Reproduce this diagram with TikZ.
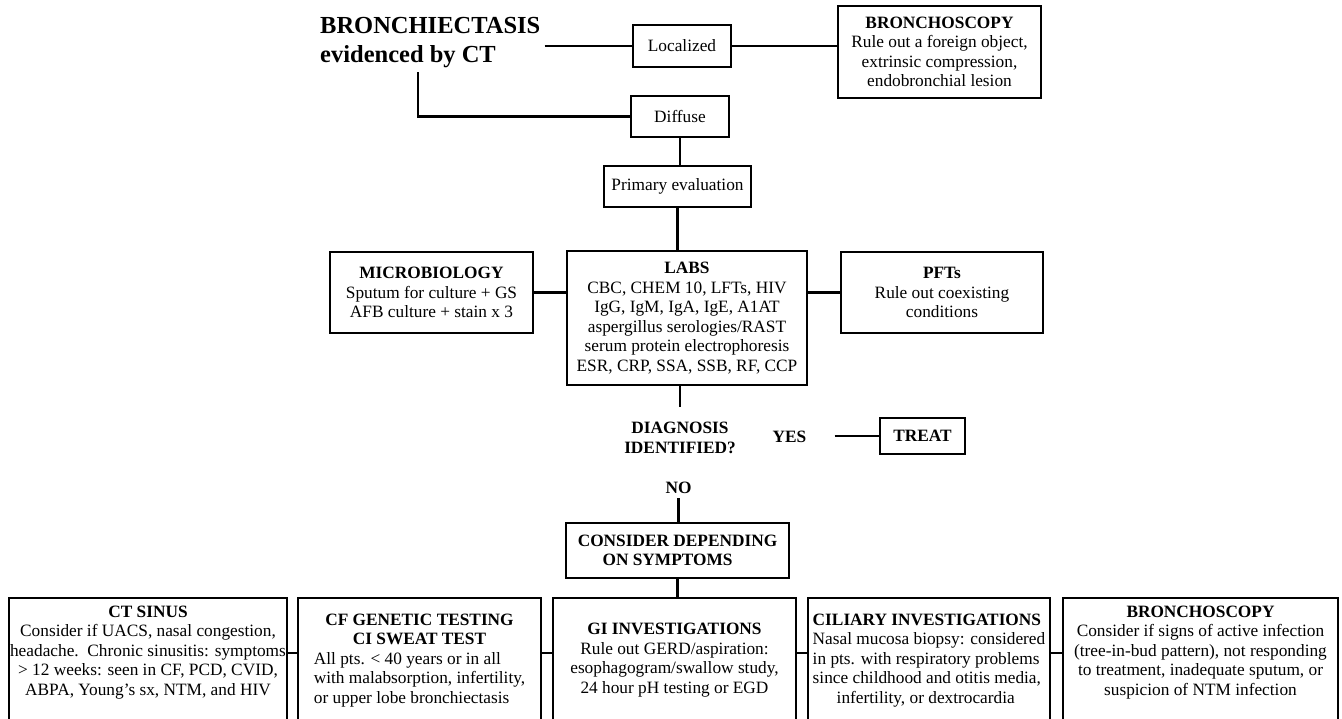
\documentclass[tikz,border=0pt]{standalone}
\usepackage{fontspec}
\setmainfont{Liberation Serif}
\begin{document}
\begin{tikzpicture}[x=1pt,y=-1pt,line width=2.4pt,
        frame/.style={draw=black,line width=2.4pt,inner sep=0pt,font=\fontsize{17.3}{19.5}\selectfont},
        box/.style={frame,align=center},
        headbox/.style={box,font=\fontsize{17.3}{19.5}\selectfont\bfseries},
        bottombox/.style={box,anchor=north,minimum height=124pt},
        boldtext/.style={align=center,inner sep=3pt,font=\fontsize{17.3}{19.5}\selectfont\bfseries},
        titletext/.style={align=left,inner sep=3pt,font=\fontsize{24.5}{29}\selectfont\bfseries}]
        \useasboundingbox (0,0) rectangle (1342,718);
        \node[titletext,anchor=west] (title) at (316,43) {BRONCHIECTASIS\\evidenced by CT};
        \node[box,minimum width=98pt,minimum height=42pt] (localized) at (682,46) {Localized};
        \node[box,minimum width=203pt,minimum height=92pt] (bronchtop) at (939.5,52) {\textbf{BRONCHOSCOPY}\\Rule out a foreign object,\\extrinsic compression,\\endobronchial lesion};
        \node[box,minimum width=98pt,minimum height=41pt] (diffuse) at (680,116.5) {Diffuse};
        \coordinate (bend) at (418,116.5);
        \node[box,minimum width=147pt,minimum height=41pt] (primary) at (677.5,186.5) {Primary evaluation};
        \node[box,minimum width=203pt,minimum height=81pt] (micro) at (431.5,292.5) {\textbf{MICROBIOLOGY}\\Sputum for culture + GS\\AFB culture + stain x 3};
        \node[box,minimum width=240pt,minimum height=134pt] (labs) at (687,318) {\textbf{LABS}\\CBC, CHEM 10, LFTs, HIV\\IgG, IgM, IgA, IgE, A1AT\\aspergillus serologies/RAST\\serum protein electrophoresis\\ESR, CRP, SSA, SSB, RF, CCP};
        \node[box,minimum width=202pt,minimum height=81pt] (pfts) at (942,292.5) {\textbf{PFTs}\\Rule out coexisting\\conditions};
        \node[boldtext] (diag) at (680,438) {DIAGNOSIS\\IDENTIFIED?};
        \node[boldtext] (yes) at (789.5,437) {YES};
        \coordinate (yesend) at ([xshift=24pt]yes.east);
        \node[headbox,minimum width=85pt,minimum height=36pt] (treat) at (922.5,436) {TREAT};
        \node[boldtext] (no) at (678.5,488) {NO};
        \node[headbox,minimum width=223pt,minimum height=55pt] (consider) at (677.5,550.5) {CONSIDER DEPENDING\\ON SYMPTOMS\hspace*{20pt}};
        \node[bottombox,minimum width=278pt] (ctsinus) at (148,597) {\textbf{CT SINUS}\\Consider if UACS, nasal congestion,\\headache.\ \ Chronic sinusitis: symptoms\\> 12 weeks: seen in CF, PCD, CVID,\\ABPA, Young’s sx, NTM, and HIV\\\mbox{}};
        \node[frame,anchor=north,minimum height=124pt,minimum width=243pt] (cfgen) at (419.5,597) {\begin{tabular}{@{}l@{}}\multicolumn{1}{@{}c@{}}{\bfseries CF GENETIC TESTING}\\\multicolumn{1}{@{}c@{}}{\bfseries CI SWEAT TEST}\\All pts. < 40 years or in all\\with malabsorption, infertility,\\or upper lobe bronchiectasis\end{tabular}};
        \node[bottombox,minimum width=243pt] (gi) at (674.5,597) {\textbf{GI INVESTIGATIONS}\\Rule out GERD/aspiration:\\esophagogram/swallow study,\\24 hour pH testing or EGD};
        \node[bottombox,align=left,minimum width=242pt] (ciliary) at (929,597) {\textbf{CILIARY INVESTIGATIONS}\\Nasal mucosa biopsy: considered\\in pts. with respiratory problems\\since childhood and otitis media,\\\hspace*{24pt}infertility, or dextrocardia};
        \node[bottombox,minimum width=275pt] (bronchbot) at (1200.5,597) {\textbf{BRONCHOSCOPY}\\Consider if signs of active infection\\(tree-in-bud pattern), not responding\\to treatment, inadequate sputum, or\\suspicion of NTM infection\hspace*{26pt}\\\mbox{}};
        \draw (title.east |- localized.west) -- (localized.west);
        \draw (localized.east) -- (localized.east -| bronchtop.west);
        \draw (title.south -| bend) -- (bend) -- (diffuse.west);
        \draw (diffuse.south) -- (diffuse.south |- primary.north);
        \draw (primary.south) -- (primary.south |- labs.north);
        \draw (micro.east) -- (micro.east -| labs.west);
        \draw (pfts.west) -- (pfts.west -| labs.east);
        \draw (labs.south -| diag.north) -- ([yshift=11pt]diag.north);
        \draw (yesend |- treat.west) -- (treat.west);
        \draw (no.south) -- (no.south |- consider.north);
        \draw (consider.south) -- (consider.south |- gi.north);
        \draw ([yshift=-56pt]ctsinus.north east) -- ([yshift=-56pt]cfgen.north west);
        \draw ([yshift=-56pt]cfgen.north east) -- ([yshift=-56pt]gi.north west);
        \draw ([yshift=-56pt]gi.north east) -- ([yshift=-56pt]ciliary.north west);
        \draw ([yshift=-56pt]ciliary.north east) -- ([yshift=-56pt]bronchbot.north west);
\end{tikzpicture}
\end{document}
